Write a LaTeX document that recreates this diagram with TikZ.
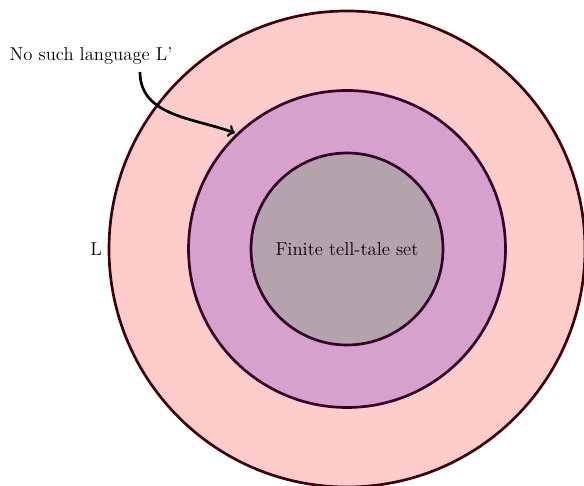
\documentclass[tikz,border=0pt]{standalone}
\begin{document}
\begin{tikzpicture}[x=0.5977pt,y=0.5977pt,
  ring/.style={line width=1.6pt},
  lbl/.style={inner sep=1pt,font=\fontsize{11.15}{13}\selectfont}]
\definecolor{outerfill}{RGB}{255,204,204}
\definecolor{midfill}{RGB}{214,161,204}
\definecolor{innfill}{RGB}{180,162,172}
\definecolor{outerdraw}{RGB}{60,0,10}
\definecolor{middraw}{RGB}{50,0,40}
\useasboundingbox (0,0) rectangle (584,485);
\begin{scope}
\clip (0,0) rectangle (584,485);
\node[circle,ring,draw=outerdraw,fill=outerfill,minimum size=476*0.5977pt,inner sep=0] (outer) at (347,236) {};
\end{scope}
\node[circle,ring,draw=middraw,fill=midfill,minimum size=317*0.5977pt,inner sep=0] (mid) at (347,236) {};
\node[circle,ring,draw=middraw,fill=innfill,minimum size=192*0.5977pt,inner sep=0] (inner) at (347,236) {};
\node[lbl] (tell) at (347,236) {Finite tell-tale set};
\node[lbl] (L) at (96,236) {L};
\node[lbl] (nosuch) at (91,429) {No such language L'};
\coordinate (a) at (140,413);
\coordinate (b) at (235,352);
\draw[->,line width=1.6pt] (a) to[out=-90,in=160] (b);
\end{tikzpicture}
\end{document}
